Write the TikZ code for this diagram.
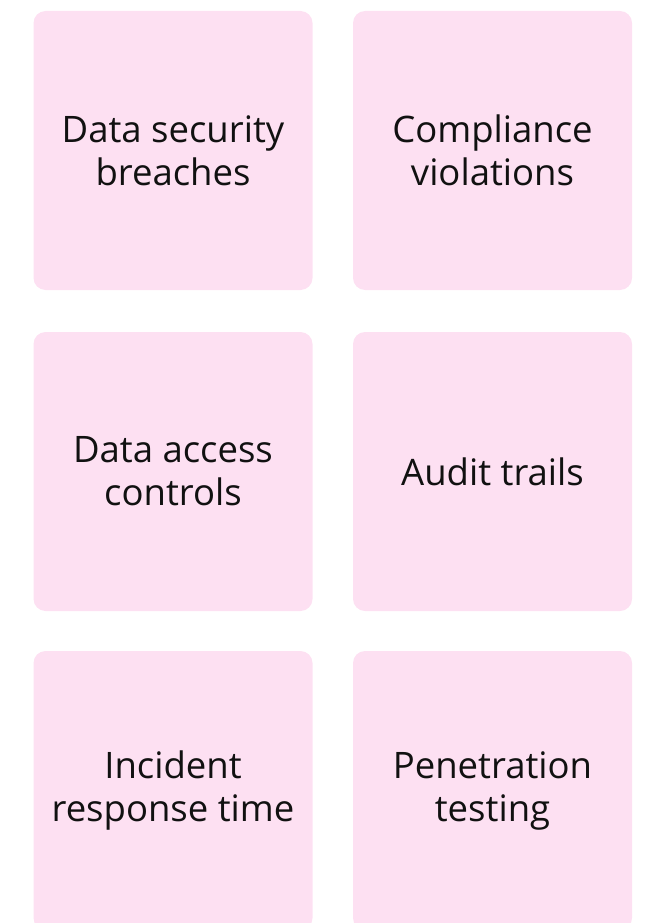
\documentclass[tikz,border=0pt]{standalone}
\usepackage{fontspec}
\setmainfont[Ligatures=NoCommon]{Open Sans}
\usepackage{xcolor}
\definecolor{card-fill}{HTML}{FDE0F2}
\definecolor{card-text}{HTML}{111111}
\usepackage{tikz}

\tikzset{
  card/.style={rectangle, rounded corners=12pt, fill=card-fill,
    minimum width=279pt, minimum height=279pt, inner sep=0pt,
    text=card-text, align=center,
    font=\fontsize{36.5}{43}\selectfont}
}

\begin{document}
\begin{tikzpicture}[x=1pt, y=-1pt]

    % Background
    \useasboundingbox (0, 0) rectangle (647, 923);
    \clip (0, 0) rectangle (647, 923);

    % Top row
    \node[card] (breaches) at (173, 150.5) {Data security\\breaches};
    \node[card] (compliance) at (492.5, 150.5) {Compliance\\violations};

    % Middle row
    \node[card] (access) at (173, 471.5) {Data access\\controls};
    \node[card] (audit) at (492.5, 471.5) {Audit trails};

    % Bottom row
    \node[card] (incident) at (173, 790.5) {Incident\\response time};
    \node[card] (pentest) at (492.5, 790.5) {Penetration\\testing};

\end{tikzpicture}
\end{document}
